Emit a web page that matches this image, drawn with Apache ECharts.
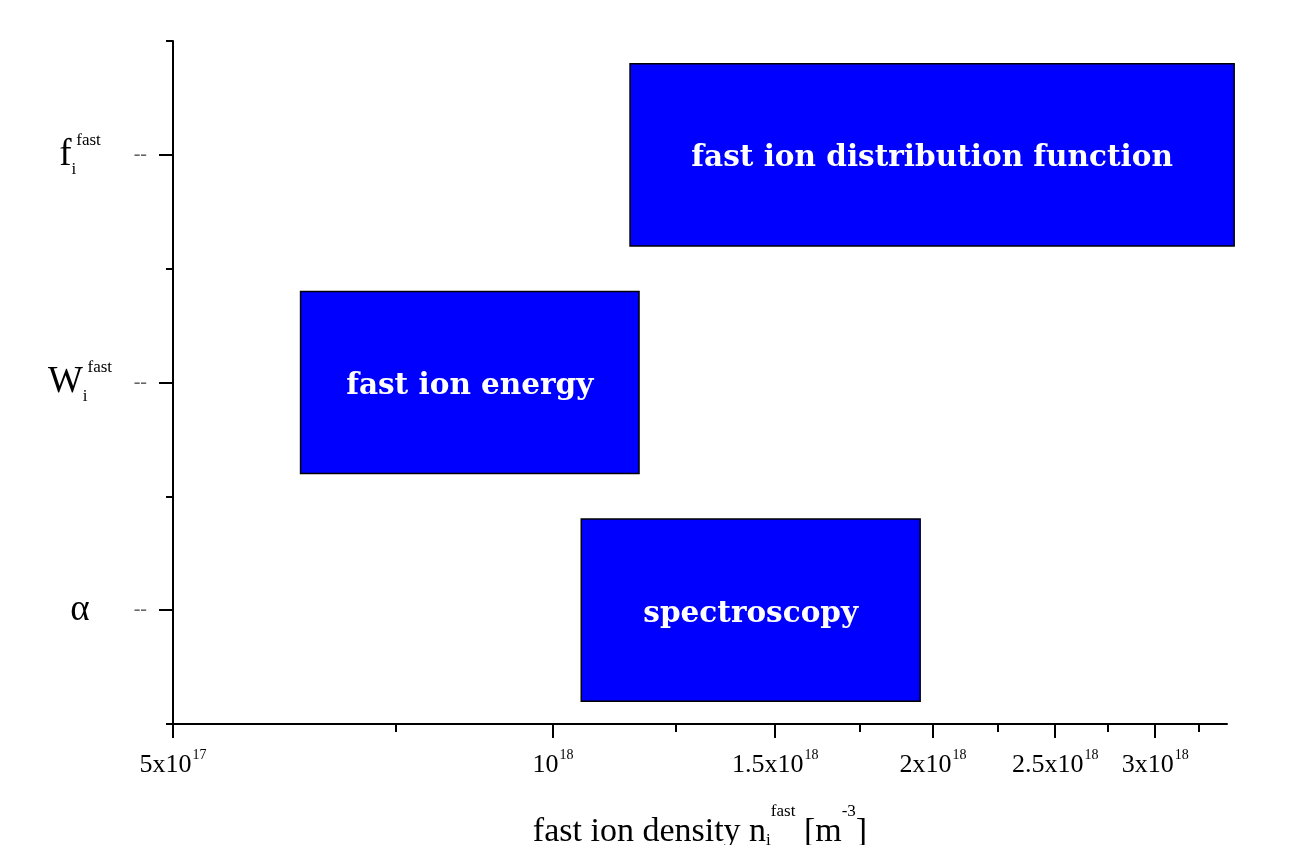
<!DOCTYPE html>
<html>
<head>
<meta charset="utf-8">
<script src="https://cdn.jsdelivr.net/npm/echarts@6/dist/echarts.min.js"></script>
<style>
  html, body { margin: 0; padding: 0; background: #fff; }
  #chart { width: 1294px; height: 845px; }
</style>
</head>
<body>
<div id="chart"></div>
<script>
// quantities (bottom to top) and the diagnostic that measures each one
const categories = ['alpha', 'W', 'f'];
const methods = ['spectroscopy', 'fast ion energy', 'fast ion distribution function'];
// density ranges in m^-3
const rangeStart = [1.053e18, 6.31e17, 1.151e18];
const rangeEnd = [1.954e18, 1.17e18, 3.465e18];
// x axis ticks
const majorTicks = [5e17, 1e18, 1.5e18, 2e18, 2.5e18, 3e18];
const minorTicks = [7.5e17, 1.25e18, 1.75e18, 2.25e18, 2.75e18, 3.25e18];
const xMin = 5e17;
const xMax = 3.42e18;

const serif = '"Liberation Serif", "DejaVu Serif", serif';
const boldSerif = '"DejaVu Serif", "Liberation Serif", serif';

const chart = echarts.init(document.getElementById('chart'));

// "1.5x10^18" style label
function sciLabel(v) {
    const exp = Math.floor(Math.log10(v) + 1e-9);
    const mant = Math.round(v / Math.pow(10, exp) * 100) / 100;
    const base = mant === 1 ? '10' : mant + 'x10';
    return '{b|' + base + '}{sup|' + exp + '}';
}

const symbolLabels = {
    alpha: '{big|α}',
    W: '{big|W}{sub|i}{sup|fast}',
    f: '{big|f}{sub|i}{sup|fast}'
};

const seriesData = categories.map((c, i) => [i, rangeStart[i], rangeEnd[i]]);

const option = {
    animation: false,
    backgroundColor: '#fff',
    grid: { left: 173, right: 67, top: 41, bottom: 121, outerBoundsMode: 'none' },
    xAxis: [
        {
            type: 'log',
            min: xMin,
            max: xMax,
            position: 'bottom',
            splitLine: { show: false },
            axisLine: { show: true, onZero: false, lineStyle: { color: '#000', width: 2 } },
            axisTick: { show: true, customValues: majorTicks, length: 14, lineStyle: { color: '#000', width: 2 } },
            axisLabel: {
                customValues: majorTicks,
                margin: 24,
                formatter: sciLabel,
                rich: {
                    b: { fontFamily: serif, fontSize: 26, color: '#000', lineHeight: 30, verticalAlign: 'bottom' },
                    sup: { fontFamily: serif, fontSize: 14, color: '#000', lineHeight: 30, verticalAlign: 'top', padding: [0, 0, 0, 1] }
                }
            },
            name: '{t|fast ion density n}{sub|i}{sup|fast}{t| [m}{sup|-3}{t|]}',
            nameLocation: 'middle',
            nameGap: 79,
            nameTextStyle: {
                rich: {
                    t: { fontFamily: serif, fontSize: 34, color: '#000', lineHeight: 40, verticalAlign: 'bottom' },
                    sup: { fontFamily: serif, fontSize: 17, color: '#000', lineHeight: 44, verticalAlign: 'top' },
                    sub: { fontFamily: serif, fontSize: 17, color: '#000', lineHeight: 46, verticalAlign: 'bottom' }
                }
            }
        },
        {
            type: 'log',
            min: xMin,
            max: xMax,
            position: 'bottom',
            splitLine: { show: false },
            axisLine: { show: false, onZero: false },
            axisTick: { show: true, customValues: minorTicks, length: 8, lineStyle: { color: '#000', width: 2 } },
            axisLabel: { show: false }
        }
    ],
    yAxis: [
        {
            type: 'category',
            data: categories,
            axisLine: { show: true, onZero: false, lineStyle: { color: '#000', width: 2 } },
            axisTick: { show: true, alignWithLabel: true, length: 14, lineStyle: { color: '#000', width: 2 } },
            axisLabel: {
                align: 'center',
                margin: 93,
                formatter: v => symbolLabels[v],
                rich: {
                    big: { fontFamily: serif, fontSize: 37, color: '#000', lineHeight: 44, verticalAlign: 'middle' },
                    sub: { fontFamily: serif, fontSize: 17, color: '#000', lineHeight: 46, verticalAlign: 'bottom' },
                    sup: { fontFamily: serif, fontSize: 17, color: '#000', lineHeight: 44, verticalAlign: 'top' }
                }
            },
            splitLine: { show: false }
        },
        {
            type: 'category',
            data: categories,
            position: 'left',
            axisLine: { show: false, onZero: false },
            axisTick: { show: true, alignWithLabel: false, length: 7, lineStyle: { color: '#000', width: 2 } },
            axisLabel: {
                margin: 26,
                formatter: () => '--',
                color: '#666',
                fontFamily: serif,
                fontSize: 20
            },
            splitLine: { show: false }
        }
    ],
    series: [{
        type: 'custom',
        clip: false,
        xAxisIndex: 0,
        yAxisIndex: 0,
        encode: { x: [1, 2], y: 0 },
        data: seriesData,
        renderItem: function (params, api) {
            const cat = api.value(0);
            const p0 = api.coord([api.value(1), cat]);
            const p1 = api.coord([api.value(2), cat]);
            const h = api.size([1e18, 1])[1] * 0.8;
            return {
                type: 'group',
                children: [
                    {
                        type: 'rect',
                        shape: { x: p0[0], y: p0[1] - h / 2, width: p1[0] - p0[0], height: h },
                        style: { fill: '#0000ff', stroke: '#000', lineWidth: 1.5 }
                    },
                    {
                        type: 'text',
                        style: {
                            text: methods[params.dataIndex],
                            x: (p0[0] + p1[0]) / 2,
                            y: p0[1] + 4,
                            align: 'center',
                            verticalAlign: 'middle',
                            fill: '#fff',
                            font: 'bold 29.5px ' + boldSerif
                        }
                    }
                ]
            };
        }
    }]
};

chart.setOption(option);
</script>
</body>
</html>
